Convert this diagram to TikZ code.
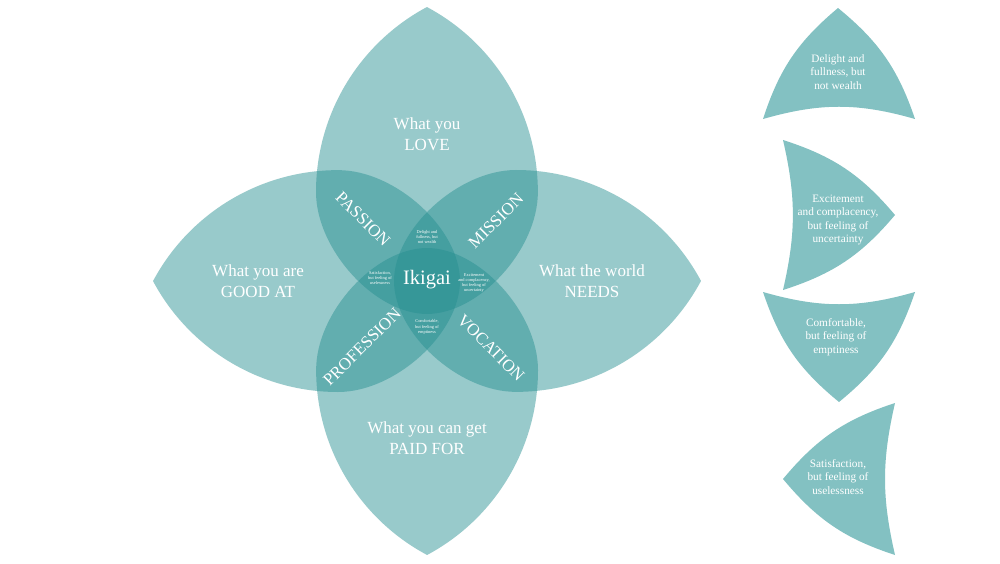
\documentclass[tikz,border=0pt]{standalone}
\usepackage{fontspec}
\setmainfont{Liberation Serif}
\definecolor{petalc}{RGB}{38,143,145}
\definecolor{shapec}{RGB}{131,193,194}
\tikzset{
  petalpic/.pic={
    \fill[petalc, fill opacity=0.47]
      (-111pt,0pt) arc[start angle=180, end angle=118.1, radius=209.7pt]
      arc[start angle=61.9, end angle=0, radius=209.7pt]
      .. controls (111,-57.3) and (52.2,-122) .. (0,-122)
      .. controls (-52.2,-122) and (-111,-57.3) .. (-111,0) -- cycle;
  },
  biglabel/.style={text=white, align=center, font=\fontsize{17}{21}\selectfont},
  ringlabel/.style={text=white, font=\fontsize{17}{20}\selectfont},
  tinylabel/.style={text=white, align=center, font=\fontsize{4.4}{5.2}\selectfont},
  sidelabel/.style={text=white, align=center, font=\fontsize{11.3}{13.6}\selectfont},
  sideshape/.style={fill=shapec, draw=none},
}
\begin{document}
\begin{tikzpicture}[x=1pt, y=1pt]
\useasboundingbox (0,0) rectangle (1000,563);
\fill[white] (0,0) rectangle (1000,563);

% petals
\pic at (427,371) {petalpic};
\pic[rotate=180] at (427,193) {petalpic};
\pic[rotate=90] at (338,282) {petalpic};
\pic[rotate=-90] at (516,282) {petalpic};

% main labels
\node[biglabel] (love) at (427,429) {What you\\LOVE};
\node[biglabel] (good) at (258,282) {What you are\\GOOD AT};
\node[biglabel] (needs) at (592,282) {What the world\\NEEDS};
\node[biglabel] (paid) at (427,125) {What you can get\\PAID FOR};

\node[ringlabel, rotate=-45] (passion) at (363,344) {PASSION};
\node[ringlabel, rotate=45] (mission) at (496,342) {MISSION};
\node[ringlabel, rotate=45] (profession) at (362,216) {PROFESSION};
\node[ringlabel, rotate=-45] (vocation) at (491,215) {VOCATION};

\node[text=white, font=\fontsize{20.5}{24}\selectfont] (ikigai) at (427,283) {Ikigai};

\node[tinylabel] (tdelight) at (427,326) {Delight and\\fullness, but\\not wealth};
\node[tinylabel] (tsatis) at (380,285) {Satisfaction,\\but feeling of\\uselessness};
\node[tinylabel] (texcite) at (474,280) {Excitement\\and complacency,\\but feeling of\\uncertainty};
\node[tinylabel] (tcomfort) at (427,236) {Comfortable,\\but feeling of\\emptiness};

% right-hand shapes
\coordinate (s1a) at (838,555);
\coordinate (s1l) at (763,444);
\coordinate (s1r) at (915,444);
\fill[sideshape] (s1a) to[bend left=16] (s1r) to[bend right=16] (s1l) to[bend left=16] (s1a) -- cycle;
\node[sidelabel] (sdelight) at (838,491) {Delight and\\fullness, but\\not wealth};

\coordinate (s2a) at (895,348);
\coordinate (s2t) at (783,423);
\coordinate (s2b) at (783,273);
\fill[sideshape] (s2t) to[bend left=16] (s2a) to[bend left=16] (s2b) to[bend right=13] (s2t) -- cycle;
\node[sidelabel] (sexcite) at (838,343) {Excitement\\and complacency,\\but feeling of\\uncertainty};

\coordinate (s3a) at (839,161);
\coordinate (s3l) at (763,271);
\coordinate (s3r) at (915,271);
\fill[sideshape] (s3l) to[bend right=16] (s3r) to[bend left=16] (s3a) to[bend left=16] (s3l) -- cycle;
\node[sidelabel] (scomfort) at (836,226) {Comfortable,\\but feeling of\\emptiness};

\coordinate (s4a) at (783,84);
\coordinate (s4t) at (895,160);
\coordinate (s4b) at (895,8);
\fill[sideshape] (s4a) to[bend left=16] (s4t) to[bend right=13] (s4b) to[bend left=16] (s4a) -- cycle;
\node[sidelabel] (ssatis) at (838,86) {Satisfaction,\\but feeling of\\uselessness};
\end{tikzpicture}
\end{document}
